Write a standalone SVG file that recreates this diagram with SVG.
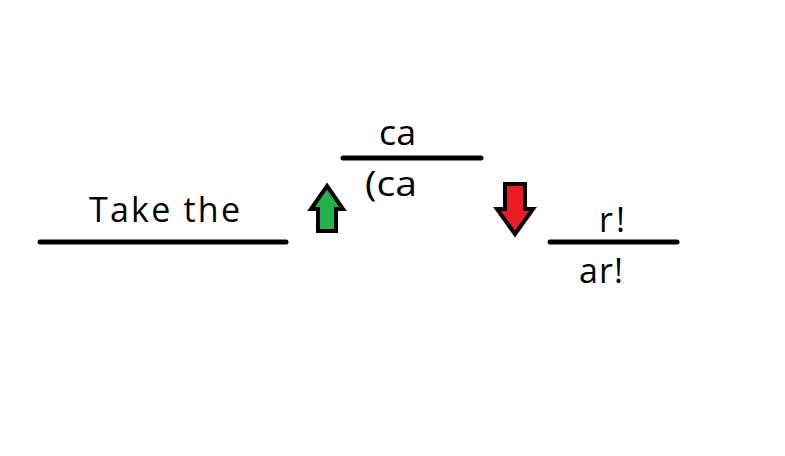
<svg xmlns="http://www.w3.org/2000/svg" width="785" height="456" viewBox="0 0 785 456">
<style>
.t{font-family:"Comic Sans MS","Open Sans","DejaVu Sans",sans-serif;font-size:34px;fill:#000}
.ln{stroke:#000;stroke-width:5;stroke-linecap:round}
.ar{stroke:#000;stroke-width:4;stroke-linejoin:miter}
</style>
<rect width="785" height="456" fill="#fff"/>
<g id="left">
<line class="ln" x1="40" y1="242" x2="286" y2="242"/>
<text class="t" x="89" y="222" textLength="151" lengthAdjust="spacing">Take the</text>
</g>
<g id="middle">
<line class="ln" x1="343" y1="158" x2="481" y2="158"/>
<text class="t" x="379" y="145" textLength="37" lengthAdjust="spacingAndGlyphs">ca</text>
<text class="t" x="365" y="196" textLength="52" lengthAdjust="spacingAndGlyphs">(ca</text>
</g>
<g id="right">
<line class="ln" x1="550" y1="242" x2="677" y2="242"/>
<text class="t" x="599" y="232" textLength="26" lengthAdjust="spacing">r!</text>
<text class="t" x="579" y="283" textLength="44" lengthAdjust="spacing">ar!</text>
</g>
<g id="connectors">
<polygon class="ar" fill="#22b14c" points="327,186 343,209 336,209 336,231 318,231 318,209 311,209"/>
<polygon class="ar" fill="#ed1c24" points="505,184 525,184 525,209 533,209 515,234 497,209 505,209"/>
</g>
</svg>
